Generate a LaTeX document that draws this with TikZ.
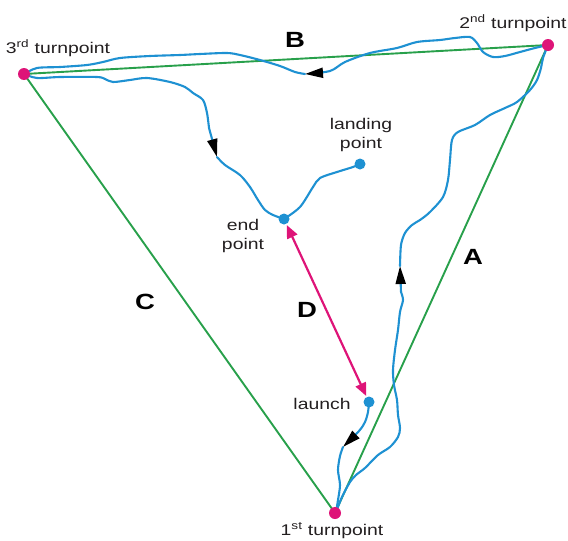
\documentclass[tikz,border=0pt]{standalone}
\usepackage{fontspec}
\setmainfont{Liberation Sans}
\newfontfamily\labfont[FakeStretch=1.25]{Liberation Sans}
\usetikzlibrary{arrows.meta}
\definecolor{leggreen}{RGB}{40,160,75}
\definecolor{trackblue}{RGB}{30,145,210}
\definecolor{tpmag}{RGB}{222,20,120}
\definecolor{labgray}{RGB}{35,31,32}
\tikzset{
  leg/.style={leggreen, line width=1.9pt},
  track/.style={trackblue, line width=2.1pt, line join=round, line cap=round},
  dirtip/.style={-{Triangle[length=18pt,width=10pt,black]}},
  tpdot/.style={circle, fill=tpmag, inner sep=0pt, minimum size=12pt},
  bdot/.style={circle, fill=trackblue, inner sep=0pt, minimum size=11pt},
  darrow/.style={tpmag, line width=2.2pt, {Triangle[length=13pt,width=11pt]}-{Triangle[length=13pt,width=11pt]}, shorten <=1pt, shorten >=1pt},
  lab/.style={text=labgray, font=\labfont\fontsize{15.5}{19.5}\selectfont, inner sep=0pt},
  big/.style={text=black, font=\labfont\fontsize{22}{22}\selectfont\bfseries, inner sep=0pt}
}
\begin{document}
\begin{tikzpicture}[x=1pt,y=-1pt]
\useasboundingbox (0,0) rectangle (568,541);
% turnpoints and points
\coordinate (p1) at (335,513);
\coordinate (p2) at (548,45);
\coordinate (p3) at (24,74);
% legs
\draw[leg] (p1) -- (p2) -- (p3) -- cycle;
% track: launch -> 1st turnpoint
\draw[track, dirtip] plot[smooth, tension=0.5] coordinates {(369,402) (368,412) (365,422) (359,431) (343,447)};
\draw[track] plot[smooth, tension=0.5] coordinates {(343,447) (340,456) (338,470) (340,485) (338,500) (336,512)};
% leg A
\draw[track] plot[smooth, tension=0.5] coordinates {(336,512) (342,497) (350,482) (356,475) (365,468) (378,455) (390,447) (398,437) (400,428) (398,415) (397,400) (394,385) (393,370) (395,350) (398,330) (400,312) (403,300) (401,292)};
\draw[track, dirtip] (401,292) -- (400,266);
\draw[track] plot[smooth, tension=0.5] coordinates {(400,266) (401,245) (405,233) (412,225) (420,220) (430,212) (443,197) (448,180) (450,160) (452,140) (458,132) (475,125) (490,115) (505,108) (517,102) (530,90) (537,80) (541,68) (543,58) (548,45)};
% leg B
\draw[track, dirtip] plot[smooth, tension=0.5] coordinates {(548,45) (535,48) (520,52) (505,56) (493,57) (483,52) (477,43) (470,37) (455,38) (440,40) (417,42) (397,48) (370,53) (345,62) (330,71) (305,74)};
\draw[track] plot[smooth, tension=0.5] coordinates {(305,74) (295,72) (280,66) (260,60) (240,55) (227,53) (200,54) (180,55) (150,56) (120,58) (103,62) (87,65) (60,67) (37,68) (24,74)};
% leg C (to end point)
\draw[track] plot[smooth, tension=0.5] coordinates {(24,74) (37,78) (60,77) (97,77) (105,79) (113,82) (130,80) (147,78) (170,82) (185,87) (193,93) (203,100) (207,113) (209,128)};
\draw[track, dirtip] (209,128) -- (217,157);
\draw[track] plot[smooth, tension=0.5] coordinates {(217,157) (225,165) (240,175) (250,187) (258,200) (265,210) (273,215) (284,219)};
% end point -> landing point
\draw[track] plot[smooth, tension=0.5] coordinates {(284,219) (300,207) (313,187) (320,178) (337,172) (353,167) (360,164)};
% dots
\node[tpdot] (tp1) at (p1) {};
\node[tpdot] (tp2) at (p2) {};
\node[tpdot] (tp3) at (p3) {};
\node[bdot] (land) at (360,164) {};
\node[bdot] (endpt) at (284,219) {};
\node[bdot] (launch) at (369,402) {};
% D arrow
\draw[darrow] (endpt) -- (launch);
% labels
\node[lab, anchor=base] (l3) at (58,53) {3\textsuperscript{rd} turnpoint};
\node[lab, anchor=base] (l2) at (513,28) {2\textsuperscript{nd} turnpoint};
\node[lab, anchor=base] (l1) at (332,535) {1\textsuperscript{st} turnpoint};
\node[lab, align=center] (llan) at (361,135) {landing\\point};
\node[lab, align=center] (lend) at (243,236) {end\\point};
\node[lab, anchor=base] (llau) at (322,409) {launch};
\node[big] (lA) at (473,257) {A};
\node[big] (lB) at (295,40) {B};
\node[big] (lC) at (145,302) {C};
\node[big] (lD) at (307,310) {D};
\end{tikzpicture}
\end{document}
